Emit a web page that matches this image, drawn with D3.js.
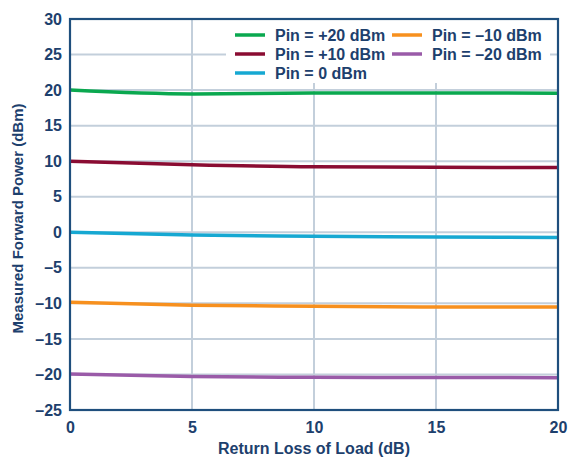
<!DOCTYPE html>
<html><head><meta charset="utf-8">
<script src="https://cdn.jsdelivr.net/npm/d3@7"></script>
<style>
html,body{margin:0;padding:0;background:#fff;}
svg{display:block;font-family:"Liberation Sans",Arial,sans-serif;}
</style></head>
<body><svg id="c" width="568" height="459"></svg>
<script>
const xValues = [0, 5, 10, 15, 20];
const pin20 = [20.0, 19.45, 19.6, 19.6, 19.55];
const pin10 = [10.0, 9.5, 9.2, 9.15, 9.1];
const pin0 = [0.0, -0.4, -0.56, -0.65, -0.72];
const pinM10 = [-9.85, -10.25, -10.4, -10.5, -10.5];
const pinM20 = [-19.95, -20.3, -20.4, -20.42, -20.45];
const seriesNames = ["Pin = +20 dBm", "Pin = +10 dBm", "Pin = 0 dBm", "Pin = \u201310 dBm", "Pin = \u201320 dBm"];
const seriesColors = ["#0aa84f", "#8a0c32", "#16a8d2", "#f7901e", "#9a5ba8"];
const xTicks = [0, 5, 10, 15, 20];
const yTicks = [30, 25, 20, 15, 10, 5, 0, -5, -10, -15, -20, -25];
const xTitle = "Return Loss of Load (dB)";
const yTitle = "Measured Forward Power (dBm)";

const seriesValues = [pin20, pin10, pin0, pinM10, pinM20];
const navy = "#1d406d";
const svg = d3.select("#c");
const x = d3.scaleLinear().domain([0, 20]).range([70, 558]);
const y = d3.scaleLinear().domain([-25, 30]).range([410, 19]);
const fmt = v => (v < 0 ? "\u2013" + Math.abs(v) : String(v));

// gridlines
const grid = svg.append("g");
grid.selectAll("line.gx").data(xTicks.slice(1, -1)).join("line")
  .attr("x1", d => x(d)).attr("x2", d => x(d)).attr("y1", y(30)).attr("y2", y(-25))
  .attr("stroke", "#c3cfdb").attr("stroke-width", 2);
grid.selectAll("line.gy").data(yTicks.slice(1, -1)).join("line")
  .attr("y1", d => y(d)).attr("y2", d => y(d)).attr("x1", x(0)).attr("x2", x(20))
  .attr("stroke", "#c3cfdb").attr("stroke-width", 2);

// axes (labels only via d3 axis)
const xAxis = svg.append("g").attr("transform", `translate(0,${y(-25)})`)
  .call(d3.axisBottom(x).tickValues(xTicks).tickFormat(fmt).tickSize(0).tickPadding(12));
const yAxis = svg.append("g").attr("transform", `translate(${x(0)},0)`)
  .call(d3.axisLeft(y).tickValues(yTicks).tickFormat(fmt).tickSize(0).tickPadding(8));
[xAxis, yAxis].forEach(a => {
  a.select(".domain").remove();
  a.selectAll("text").attr("fill", navy).attr("font-size", 16).attr("font-weight", "bold");
});

// series lines
const line = d3.line().x((d, i) => x(xValues[i])).y(d => y(d)).curve(d3.curveMonotoneX);
svg.append("g").selectAll("path").data(seriesValues).join("path")
  .attr("d", d => line(d)).attr("fill", "none")
  .attr("stroke", (d, i) => seriesColors[i]).attr("stroke-width", 3.5)
  .attr("stroke-linecap", "butt");

// legend
const lg = svg.append("g");
lg.append("rect").attr("x", 226).attr("y", 20).attr("width", 324).attr("height", 63).attr("fill", "#fff");
const legPos = [[235, 35], [235, 54], [235, 73], [392, 35], [392, 54]];
seriesNames.forEach((n, i) => {
  const [lx, ly] = legPos[i];
  lg.append("line").attr("x1", lx).attr("x2", lx + 30).attr("y1", ly).attr("y2", ly)
    .attr("stroke", seriesColors[i]).attr("stroke-width", 3.5);
  lg.append("text").attr("x", lx + 40).attr("y", ly).attr("dy", "0.35em")
    .attr("fill", navy).attr("font-size", 16).attr("font-weight", "bold").text(n);
});

// frame
svg.append("rect").attr("x", x(0)).attr("y", y(30)).attr("width", x(20) - x(0)).attr("height", y(-25) - y(30))
  .attr("fill", "none").attr("stroke", "#1f4f7d").attr("stroke-width", 2.2);

// titles
svg.append("text").attr("x", (x(0) + x(20)) / 2).attr("y", 448).attr("dy", "0.35em")
  .attr("text-anchor", "middle").attr("fill", navy).attr("font-size", 16).attr("font-weight", "bold").text(xTitle);
svg.append("text").attr("transform", `translate(18,${(y(30) + y(-25)) / 2 + 4}) rotate(-90)`)
  .attr("dy", "0.35em").attr("text-anchor", "middle").attr("fill", navy).attr("font-size", 15)
  .attr("font-weight", "bold").text(yTitle);
</script></body></html>
